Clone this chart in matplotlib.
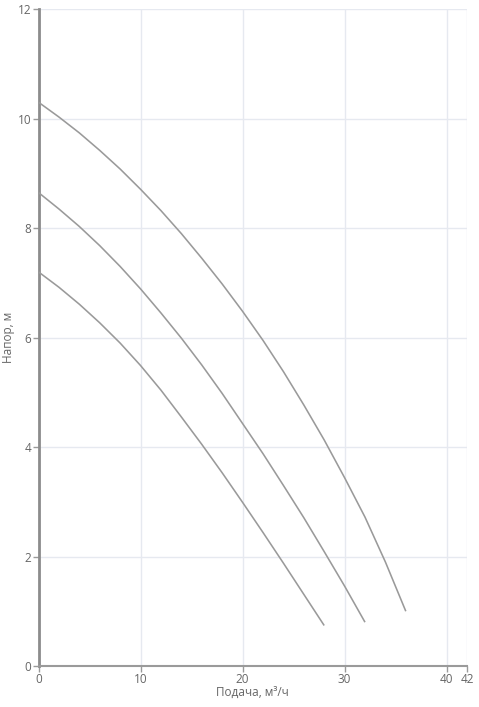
import matplotlib.pyplot as plt

plt.rcParams['font.family'] = ['Open Sans', 'DejaVu Sans']

# Pump curves (flow m3/h -> head m)
q_top = [0, 2, 4, 6, 8, 10, 12, 14, 16, 18, 20, 22, 24, 26, 28, 30, 32, 34, 36]
h_top = [10.30, 10.03, 9.74, 9.42, 9.08, 8.71, 8.32, 7.90, 7.45, 6.98, 6.48,
         5.95, 5.38, 4.77, 4.13, 3.44, 2.72, 1.90, 1.00]

q_mid = [0, 2, 4, 6, 8, 10, 12, 14, 16, 18, 20, 22, 24, 26, 28, 30, 32]
h_mid = [8.65, 8.35, 8.03, 7.68, 7.30, 6.89, 6.45, 5.99, 5.50, 4.98, 4.43,
         3.88, 3.30, 2.71, 2.09, 1.46, 0.80]

q_low = [0, 2, 4, 6, 8, 10, 12, 14, 16, 18, 20, 22, 24, 26, 28]
h_low = [7.20, 6.92, 6.61, 6.27, 5.90, 5.49, 5.04, 4.55, 4.05, 3.53, 2.99,
         2.44, 1.88, 1.31, 0.74]

x_ticks = [0, 10, 20, 30, 40, 42]
y_ticks = [0, 2, 4, 6, 8, 10, 12]

fig = plt.figure(figsize=(4.79, 7.07), dpi=100)
ax = fig.add_axes([0.0804, 0.058, 0.8946, 0.929])

for q, h in [(q_top, h_top), (q_mid, h_mid), (q_low, h_low)]:
    ax.plot(q, h, color='#9a9a9a', lw=1.15, solid_capstyle='butt',
            solid_joinstyle='round', zorder=3)

ax.set_xlim(0, 42)
ax.set_ylim(0, 12)
ax.set_xticks(x_ticks)
ax.set_yticks(y_ticks)
ax.grid(True, color='#e6e9f0', lw=1, zorder=0)

for side in ['top', 'right']:
    ax.spines[side].set_visible(False)
ax.spines['left'].set_color('#8c8c8c')
ax.spines['left'].set_linewidth(2)
ax.spines['bottom'].set_color('#9a9a9a')
ax.spines['bottom'].set_linewidth(1.5)

ax.tick_params(axis='both', colors='#9a9a9a', labelcolor='#666666', labelsize=8.5,
               length=4, width=1, pad=1)

ax.set_xlabel('Подача, м³/ч', fontsize=8.5, color='#666666', labelpad=0)
ax.set_ylabel('Напор, м', fontsize=8.5, color='#666666')
ax.yaxis.set_label_coords(-0.056, 0.5)

fig.savefig('out.png', dpi=100)
